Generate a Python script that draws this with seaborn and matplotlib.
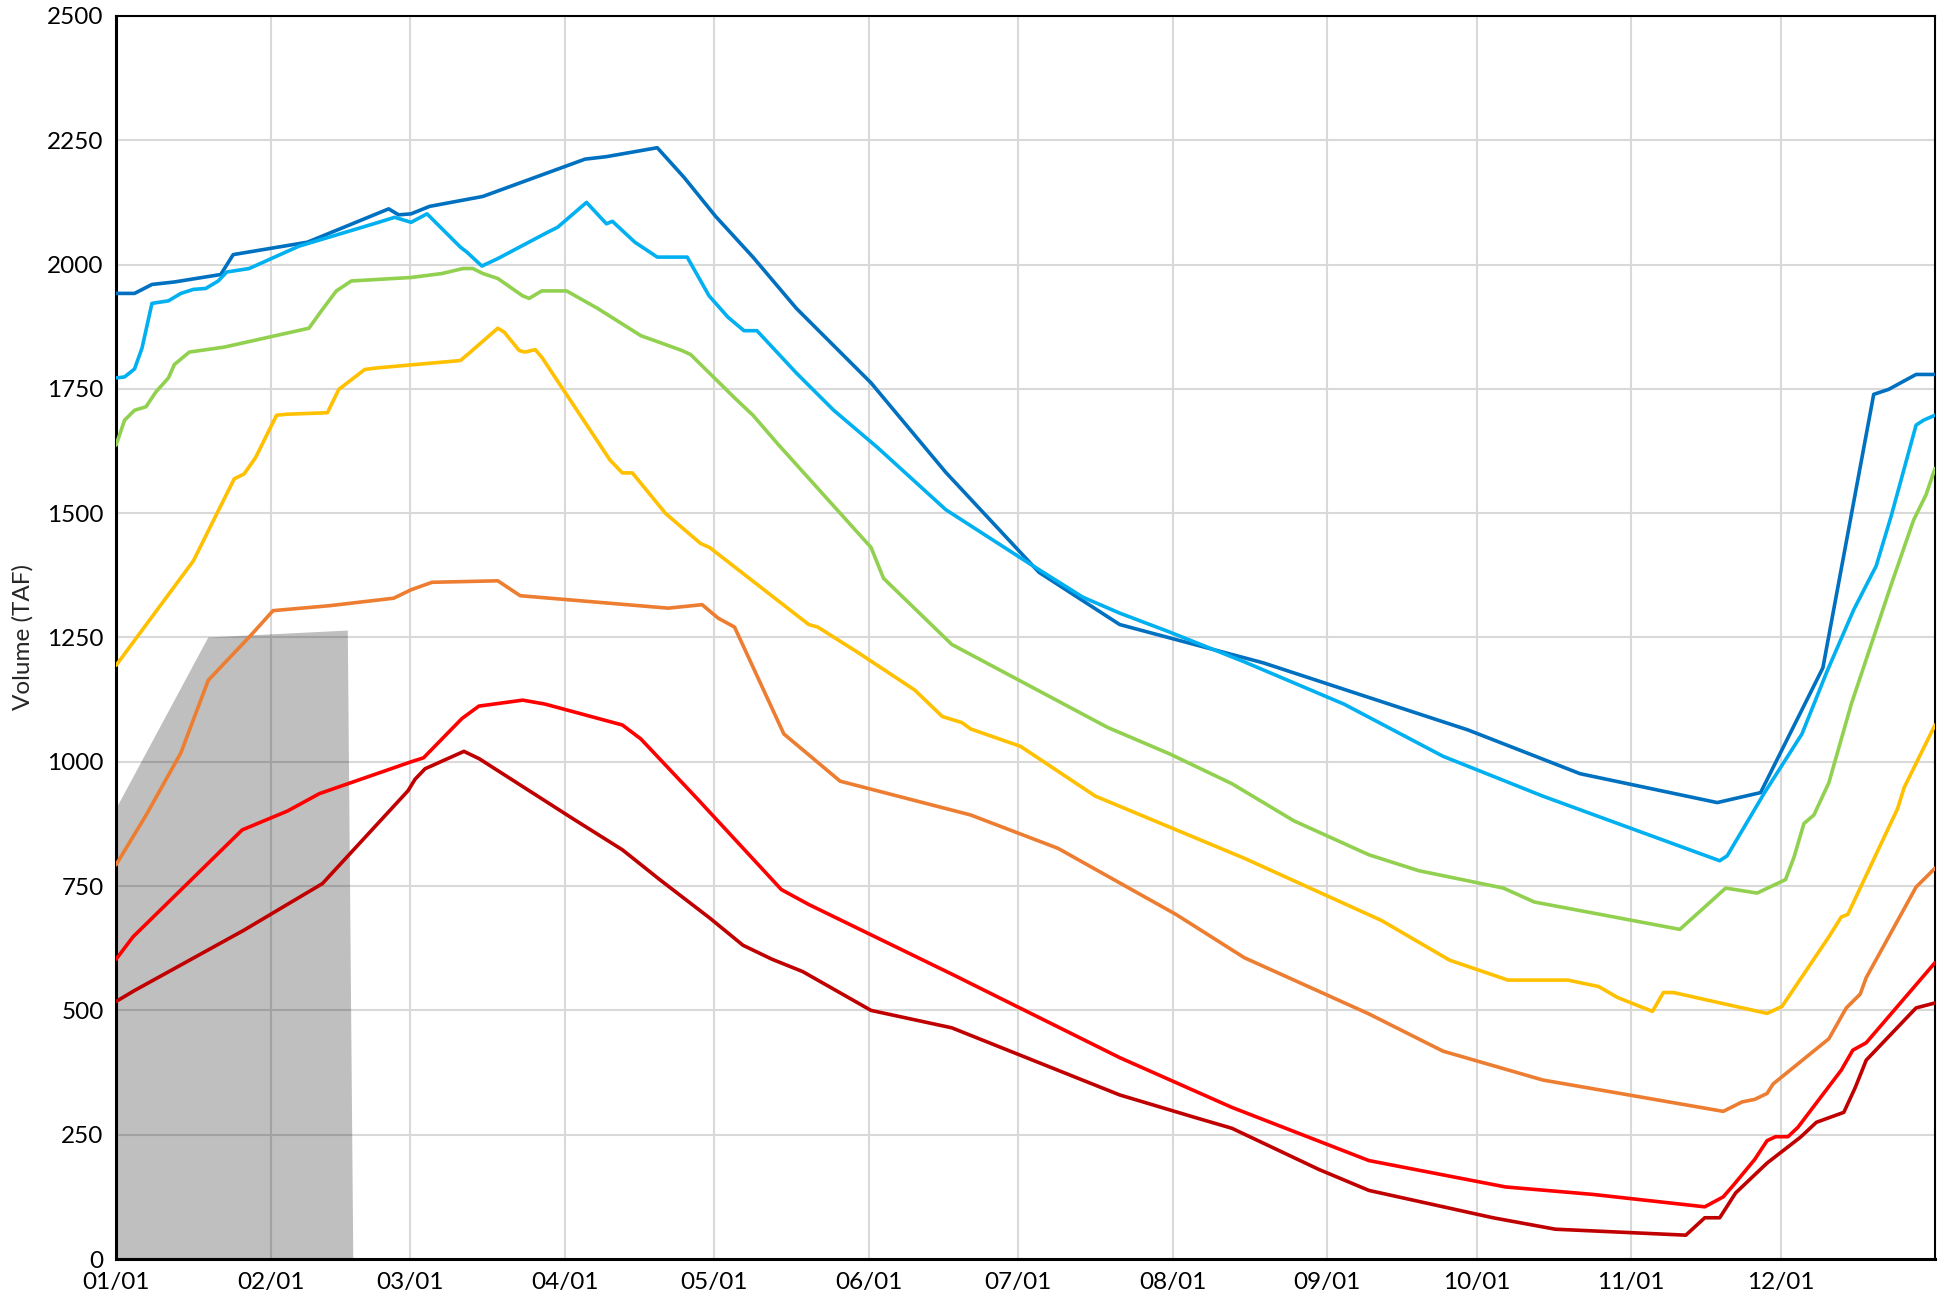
import numpy as np
import pandas as pd
import matplotlib
matplotlib.use("Agg")
import matplotlib.pyplot as plt
import seaborn as sns

# ==============================
# DATA (day of year, volume in TAF)
# ==============================
month_days = [0, 31, 59, 90, 120, 151, 181, 212, 243, 273, 304, 334]
month_labels = ["01/01", "02/01", "03/01", "04/01", "05/01", "06/01",
                "07/01", "08/01", "09/01", "10/01", "11/01", "12/01"]
y_ticks = [0, 250, 500, 750, 1000, 1250, 1500, 1750, 2000, 2250, 2500]

shade_day = [0, 0, 18.5, 46.5, 47.6, 0]
shade_vol = [0, 905, 1250, 1264, 0, 0]

dblue_day = [0, 3.7, 7.2, 11.7, 21, 23.5, 38.4, 54.7, 56.7, 59.2, 62.9, 73.6, 94.1, 98.4,
             108.6, 114, 120.3, 127.8, 136.5, 151.5, 166.5, 185.2, 201.4, 230.2, 243.9,
             271.3, 293.8, 321.3, 330, 342.5, 352.7, 355.7, 361.2, 365]
dblue_vol = [1942, 1942, 1960, 1965, 1980, 2020, 2045, 2112, 2100, 2102, 2117, 2137, 2212, 2217,
             2235, 2175, 2097, 2015, 1912, 1762, 1582, 1381, 1276, 1199, 1154,
             1064, 976, 918, 938, 1189, 1739, 1749, 1779, 1779]

lblue_day = [0, 1.7, 3.7, 5.2, 7.2, 10.5, 13, 15.5, 18, 20.5, 22.2, 26.7, 36.7, 51.7, 55.9,
             59.2, 62.4, 69.1, 70.4, 73.4, 76.6, 86.6, 88.6, 94.4, 98.4, 99.6, 104.1, 108.6,
             114.6, 119, 122.8, 126, 128.6, 136.5, 144, 152.8, 166.5, 184, 194, 201.4, 211.4,
             226.4, 246.4, 266.3, 286.3, 301.3, 321.8, 323.3, 330.8, 338.3, 343.3, 348.7,
             353.2, 356.2, 361.2, 362.7, 365]
lblue_vol = [1772, 1774, 1790, 1832, 1922, 1927, 1942, 1950, 1952, 1967, 1985, 1992, 2037, 2082, 2095,
             2085, 2102, 2035, 2025, 1997, 2012, 2065, 2075, 2125, 2082, 2087, 2045, 2015,
             2015, 1937, 1894, 1867, 1867, 1782, 1707, 1632, 1507, 1394, 1331, 1299, 1261,
             1201, 1116, 1011, 931, 876, 801, 811, 938, 1056, 1181, 1306,
             1394, 1494, 1677, 1687, 1697]

green_day = [0, 1.7, 3.7, 6, 8, 10.5, 11.7, 14.7, 21.7, 38.7, 41.2, 44.2, 47.2, 59.2, 65.4,
             69.6, 71.6, 73.6, 76.6, 81.6, 82.9, 85.4, 90.4, 96.6, 105.3, 113.6, 115.3, 124.1,
             127.8, 132.8, 151.5, 154, 167.7, 184, 199, 211.4, 223.9, 236.4, 251.4, 261.4,
             278.4, 284.6, 313.8, 318.8, 323, 329.3, 335, 336.7, 338.7, 340.7, 343.7, 348.2,
             356.2, 360.7, 363.2, 365]
green_vol = [1637, 1687, 1707, 1714, 1744, 1772, 1799, 1824, 1834, 1872, 1907, 1947, 1967, 1974, 1982,
             1992, 1992, 1982, 1972, 1937, 1932, 1947, 1947, 1912, 1857, 1827, 1819, 1732,
             1697, 1639, 1431, 1369, 1236, 1149, 1069, 1016, 956, 881, 813, 781,
             746, 718, 663, 708, 746, 736, 763, 808, 876, 893, 958, 1116,
             1356, 1486, 1537, 1590]

yellow_day = [0, 15.5, 23.7, 25.7, 28, 32.2, 34.2, 42.4, 44.7, 49.9, 52.2, 69.1, 71.1, 76.6,
              77.9, 80.9, 82.1, 84.1, 85.4, 99.1, 101.6, 103.6, 110.3, 117.3, 119.1, 139,
              140.8, 149, 160.3, 165.8, 169.7, 171.5, 181.5, 189, 196.5, 226.4, 253.9, 267.6,
              279.3, 291.3, 297.5, 301.3, 308.3, 310.5, 312.5, 331.3, 334.3, 343.7, 346.2,
              347.5, 357.5, 358.8, 365]
yellow_vol = [1194, 1404, 1569, 1579, 1612, 1697, 1699, 1702, 1749, 1789, 1792, 1807, 1824, 1872,
              1864, 1827, 1824, 1829, 1814, 1607, 1581, 1581, 1499, 1439, 1431, 1276,
              1271, 1219, 1144, 1091, 1079, 1066, 1031, 981, 931, 806, 681, 601,
              561, 561, 548, 526, 498, 536, 536, 494, 508, 648, 688,
              693, 906, 948, 1074]

orange_day = [0, 6.1, 13, 18.5, 27, 31.5, 42.9, 55.7, 59.2, 63.4, 76.6, 81.1, 110.8, 117.6,
              120.8, 124.1, 134, 145.3, 171.5, 189, 212.7, 226.4, 251.4, 263.9, 266.3, 286.3,
              322.5, 326.3, 328.8, 331.3, 332.5, 343.7, 347.2, 350, 351.2, 361.2, 365]
orange_vol = [793, 894, 1018, 1164, 1254, 1304, 1314, 1329, 1346, 1361, 1364, 1334, 1309, 1316,
              1289, 1271, 1056, 961, 893, 826, 693, 606, 493, 430, 418, 360,
              297, 316, 321, 333, 352, 443, 505, 533, 566, 748, 786]

red_day = [0, 3.4, 25.3, 34.4, 40.8, 59.2, 61.7, 69.4, 72.8, 81.6, 86.1, 101.6, 105.3, 116.6,
           133.5, 139, 167.7, 201.4, 223.9, 251.4, 278.8, 296.3, 318.8, 322.5, 324.5, 328.8,
           331.3, 333, 335.5, 337.5, 346.2, 348.5, 351.2, 365]
red_vol = [603, 648, 863, 901, 936, 1000, 1008, 1087, 1112, 1124, 1116, 1074, 1046, 926,
           743, 713, 573, 405, 305, 198, 145, 130, 105, 125, 148, 200,
           238, 246, 246, 265, 380, 420, 435, 596]

dred_day = [0, 3.7, 25.6, 41.4, 58.6, 60, 62, 69.8, 72.9, 91.6, 101.6, 109.1, 119.1, 125.8,
            131.6, 137.8, 151.5, 167.7, 201.4, 216.4, 223.9, 241.4, 251.4, 276.3, 288.8, 315,
            318.8, 321.8, 325, 331.3, 338, 341.2, 346.7, 349, 351.2, 361.2, 365]
dred_vol = [518, 540, 661, 755, 942, 965, 986, 1021, 1006, 886, 823, 763, 686, 631,
            603, 578, 500, 465, 330, 285, 263, 180, 138, 83, 60, 48,
            83, 83, 133, 193, 245, 275, 295, 345, 400, 505, 515]

series_names = ["dblue", "lblue", "green", "yellow", "orange", "red", "dred"]
series_days = [dblue_day, lblue_day, green_day, yellow_day, orange_day, red_day, dred_day]
series_vols = [dblue_vol, lblue_vol, green_vol, yellow_vol, orange_vol, red_vol, dred_vol]
colors = ["#0070C0", "#00B0F0", "#92D050", "#FFC000", "#ED7D31", "#FF0000", "#C00000"]

frames = []
for name, d, v in zip(series_names, series_days, series_vols):
    frames.append(pd.DataFrame({"day": d, "vol": v, "series": name}))
df = pd.concat(frames, ignore_index=True)

# ==============================
# PLOT
# ==============================
sns.set_style("white")
plt.rcParams["font.family"] = ["Lato", "DejaVu Sans"]

fig = plt.figure(figsize=(19.51, 13.07), dpi=100)
ax = fig.add_axes([0.0595, 0.0367, 0.9323, 0.9511])

ax.fill(shade_day, shade_vol, color="black", alpha=0.25, linewidth=0, zorder=1)

sns.lineplot(data=df, x="day", y="vol", hue="series", hue_order=series_names,
             palette=colors, estimator=None, sort=False, linewidth=2.6,
             legend=False, ax=ax, zorder=3)

ax.set_xlim(0, 365)
ax.set_ylim(0, 2500)
ax.set_xticks(month_days)
ax.set_xticklabels(month_labels)
ax.set_yticks(y_ticks)
ax.grid(True, color="#D9D9D9", linewidth=1.5, zorder=0)
ax.set_axisbelow(True)
ax.tick_params(axis="both", length=0, labelsize=17.5, colors="black", pad=9)
ax.set_xlabel("")
ax.set_ylabel("Volume (TAF)", fontsize=17.5, labelpad=10)

for side in ["left", "bottom"]:
    ax.spines[side].set_color("black")
    ax.spines[side].set_linewidth(2.2)
for side in ["top", "right"]:
    ax.spines[side].set_color("black")
    ax.spines[side].set_linewidth(1.5)

fig.savefig("out.png", dpi=100)
